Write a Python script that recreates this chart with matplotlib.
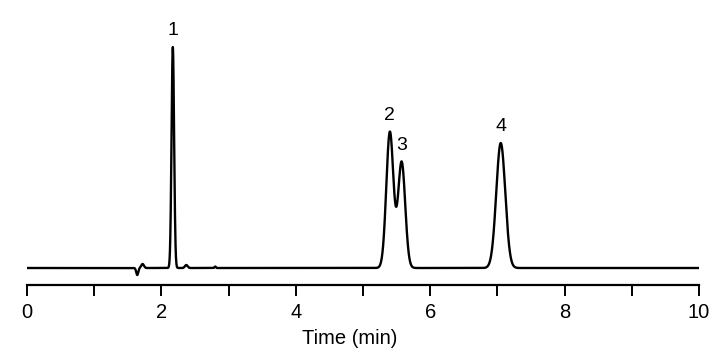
import numpy as np
import matplotlib.pyplot as plt

plt.rcParams['font.family'] = ['Liberation Sans', 'DejaVu Sans']

# peak table (time in min, height in px above baseline)
peak_t = [2.17, 5.40, 5.575, 7.05]
peak_h = [221, 136, 106, 125]
peak_w = [0.019, 0.053, 0.053, 0.067]
peak_lab = ["1", "2", "3", "4"]

# small baseline disturbances (injection dip etc.)
dist_t = [1.64, 1.72, 2.37, 2.80]
dist_h = [-7, 4, 3, 1.5]
dist_w = [0.015, 0.02, 0.02, 0.01]

t = np.linspace(0, 10, 6000)
y = np.zeros_like(t)
for c, h, s in zip(peak_t + dist_t, peak_h + dist_h, peak_w + dist_w):
    y += h * np.exp(-(t - c) ** 2 / (2 * s ** 2))

fig = plt.figure(figsize=(7.28, 3.57), dpi=100)
ax = fig.add_axes([27 / 728, (357 - 285) / 357, 672 / 728, 275 / 357])
ax.plot(t, y, color='black', lw=1.7)

for c, h, lab in zip(peak_t, peak_h, peak_lab):
    ax.text(c, h + 8, lab, ha='center', va='bottom', fontsize=14)

ax.set_xlim(0, 10)
ax.set_ylim(-17, 258)
ax.set_xticks(range(11))
ax.set_xticklabels([str(i) if i % 2 == 0 else '' for i in range(11)], fontsize=14.5)
ax.tick_params(axis='x', direction='out', length=8, width=1.4, pad=5)
ax.set_yticks([])
for s in ['top', 'right', 'left']:
    ax.spines[s].set_visible(False)
ax.spines['bottom'].set_linewidth(1.6)
ax.set_xlabel('Time (min)', fontsize=14.5, labelpad=4)
ax.xaxis.set_label_coords(0.48, -0.16)

fig.savefig('out.png', dpi=100)
